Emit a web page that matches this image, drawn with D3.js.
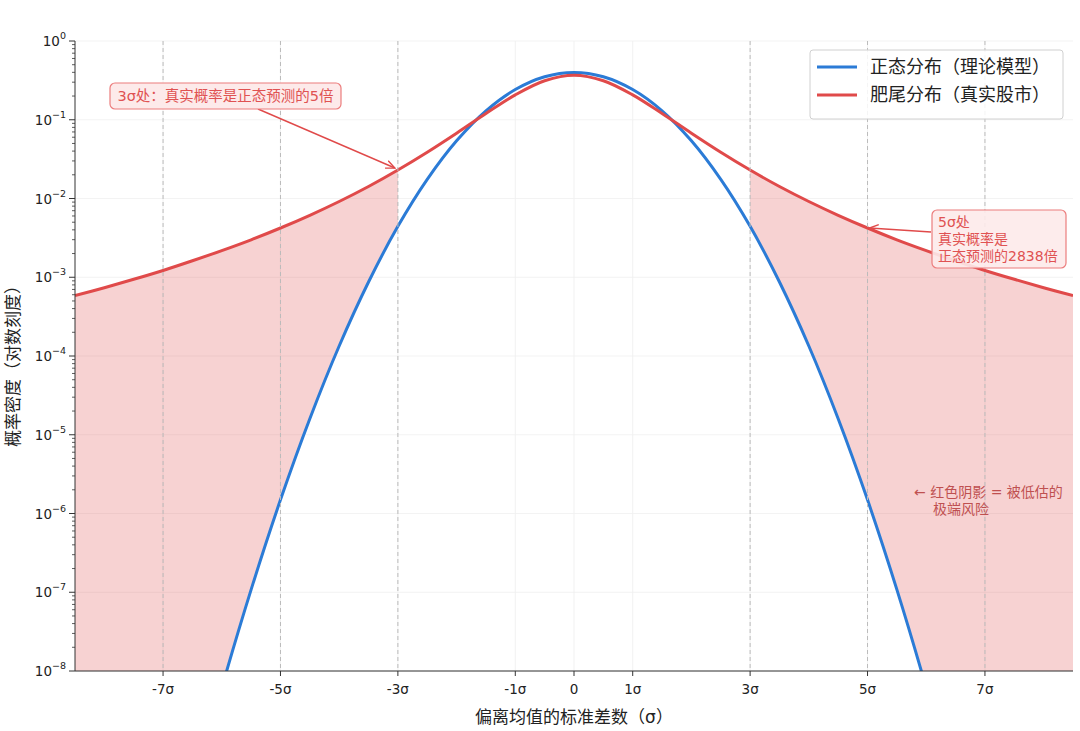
<!DOCTYPE html>
<html>
<head>
<meta charset="utf-8">
<script src="https://cdn.jsdelivr.net/npm/d3@7"></script>
<style>
  body { margin: 0; background: #fff; }
  svg { font-family: "DejaVu Sans", "Noto Sans CJK SC", sans-serif; }
  .tick-label { font-size: 13.5px; fill: #222; }
</style>
</head>
<body>
<div id="chart"></div>
<script>
// x positions (in sigma) where the curves were read
var xs = [-8.5, -8, -7.5, -7, -6.5, -6, -5.5, -5, -4.5, -4, -3.5, -3, -2.5, -2, -1.5, -1, -0.5, 0,
          0.5, 1, 1.5, 2, 2.5, 3, 3.5, 4, 4.5, 5, 5.5, 6, 6.5, 7, 7.5, 8, 8.5];

// fat-tailed density (red)
var fatTail = [5.84e-4, 7.37e-4, 9.42e-4, 1.22e-3, 1.62e-3, 2.18e-3, 2.99e-3, 4.22e-3, 6.12e-3, 9.16e-3,
               1.42e-2, 2.30e-2, 3.87e-2, 6.75e-2, 0.120, 0.207, 0.313, 0.368,
               0.313, 0.207, 0.120, 6.75e-2, 3.87e-2, 2.30e-2, 1.42e-2, 9.16e-3, 6.12e-3, 4.22e-3,
               2.99e-3, 2.18e-3, 1.62e-3, 1.22e-3, 9.42e-4, 7.37e-4, 5.84e-4];

// normal density (blue), only where it is near the visible range
var normalX = [-6.5, -6, -5.5, -5, -4.5, -4, -3.5, -3, -2.5, -2, -1.5, -1, -0.5, 0,
               0.5, 1, 1.5, 2, 2.5, 3, 3.5, 4, 4.5, 5, 5.5, 6, 6.5];
var normalPdf = [2.7e-10, 6.1e-9, 1.08e-7, 1.49e-6, 1.6e-5, 1.34e-4, 8.7e-4, 4.43e-3, 1.75e-2, 5.4e-2,
                 0.130, 0.242, 0.352, 0.399,
                 0.352, 0.242, 0.130, 5.4e-2, 1.75e-2, 4.43e-3, 8.7e-4, 1.34e-4, 1.6e-5, 1.49e-6,
                 1.08e-7, 6.1e-9, 2.7e-10];

var xTicks = [-7, -5, -3, -1, 0, 1, 3, 5, 7];
var xTickLabels = ["-7σ", "-5σ", "-3σ", "-1σ", "0", "1σ", "3σ", "5σ", "7σ"];
var dashedAt = [-7, -5, -3, 3, 5, 7];
var yExps = [0, -1, -2, -3, -4, -5, -6, -7, -8];

var seriesNames = ["正态分布（理论模型）", "肥尾分布（真实股市）"];
var note3 = "3σ处：真实概率是正态预测的5倍";
var note5 = ["5σ处", "真实概率是", "正态预测的2838倍"];
var shadeNote = ["← 红色阴影 = 被低估的", "极端风险"];

var blue = "#2b7bd6", red = "#e04a4a";

var W = 1080, H = 731;
var margin = {top: 41, right: 7, bottom: 60, left: 75},
    width = W - margin.left - margin.right,
    height = H - margin.top - margin.bottom;

var svg = d3.select("#chart").append("svg")
    .attr("width", W).attr("height", H);

var defs = svg.append("defs");
defs.append("clipPath").attr("id", "plotClip")
  .append("rect").attr("x", 0).attr("y", 0).attr("width", width).attr("height", height);

var g = svg.append("g")
    .attr("transform", "translate(" + margin.left + "," + margin.top + ")");

var x = d3.scaleLinear().domain([-8.5, 8.5]).range([0, width]);
var y = d3.scaleLog().domain([1e-8, 1]).range([height, 0]);

// tails clip: |x| >= 3
var tailClip = defs.append("clipPath").attr("id", "tailClip");
tailClip.append("rect").attr("x", x(-8.5)).attr("y", 0).attr("width", x(-3) - x(-8.5)).attr("height", height);
tailClip.append("rect").attr("x", x(3)).attr("y", 0).attr("width", x(8.5) - x(3)).attr("height", height);

// light grid
g.append("g").selectAll("line").data(xTicks).enter().append("line")
    .attr("x1", d => x(d)).attr("x2", d => x(d))
    .attr("y1", 0).attr("y2", height)
    .style("stroke", "#eeeeee").style("stroke-width", 0.8);
g.append("g").selectAll("line").data(yExps).enter().append("line")
    .attr("x1", 0).attr("x2", width)
    .attr("y1", d => y(Math.pow(10, d))).attr("y2", d => y(Math.pow(10, d)))
    .style("stroke", "#f0f0f0").style("stroke-width", 0.8);

// shaded tails between the two curves
var lookup = {};
normalX.forEach((v, i) => lookup[v] = normalPdf[i]);
var tails = xs.map((v, i) => ({x: v, top: fatTail[i], bottom: lookup[v] !== undefined ? lookup[v] : 1e-10}));

var plot = g.append("g").attr("clip-path", "url(#plotClip)");

plot.append("g").attr("clip-path", "url(#tailClip)")
  .append("path")
    .datum(tails)
    .attr("d", d3.area()
        .x(d => x(d.x))
        .y0(d => y(d.bottom))
        .y1(d => y(d.top))
        .curve(d3.curveCatmullRom))
    .style("fill", red).style("fill-opacity", 0.25);

// dashed reference lines
g.append("g").selectAll("line").data(dashedAt).enter().append("line")
    .attr("x1", d => x(d)).attr("x2", d => x(d))
    .attr("y1", 0).attr("y2", height)
    .style("stroke", "#bbbbbb").style("stroke-width", 1)
    .style("stroke-dasharray", "4,3");

var line = d3.line().x(d => x(d[0])).y(d => y(d[1])).curve(d3.curveCatmullRom);

plot.append("path")
    .datum(normalX.map((v, i) => [v, normalPdf[i]]))
    .attr("d", line)
    .style("fill", "none").style("stroke", blue).style("stroke-width", 3);

plot.append("path")
    .datum(xs.map((v, i) => [v, fatTail[i]]))
    .attr("d", line)
    .style("fill", "none").style("stroke", red).style("stroke-width", 3);

// axes (left + bottom spines only)
g.append("line").attr("x1", 0).attr("x2", 0).attr("y1", 0).attr("y2", height)
    .style("stroke", "#333").style("stroke-width", 1);
g.append("line").attr("x1", 0).attr("x2", width).attr("y1", height).attr("y2", height)
    .style("stroke", "#333").style("stroke-width", 1);

// x ticks
var xt = g.append("g").selectAll("g").data(xTicks).enter().append("g")
    .attr("transform", d => "translate(" + x(d) + "," + height + ")");
xt.append("line").attr("y2", 5).style("stroke", "#333");
xt.append("text").attr("class", "tick-label")
    .attr("y", 23).attr("text-anchor", "middle")
    .text((d, i) => xTickLabels[i]);

// y ticks: major + minor
var minor = [];
yExps.slice(1).forEach(e => { for (var k = 2; k <= 9; k++) minor.push(k * Math.pow(10, e)); });
g.append("g").selectAll("line").data(minor).enter().append("line")
    .attr("x1", -3).attr("x2", 0)
    .attr("y1", d => y(d)).attr("y2", d => y(d))
    .style("stroke", "#333").style("stroke-width", 0.8);

var yt = g.append("g").selectAll("g").data(yExps).enter().append("g")
    .attr("transform", d => "translate(0," + y(Math.pow(10, d)) + ")");
yt.append("line").attr("x1", -6).attr("x2", 0).style("stroke", "#333");
var ylab = yt.append("text").attr("class", "tick-label")
    .attr("x", -9).attr("y", 5).attr("text-anchor", "end");
ylab.append("tspan").text("10");
ylab.append("tspan").attr("dy", -7).style("font-size", "9.5px")
    .text(d => d === 0 ? "0" : "−" + (-d));

// axis titles
svg.append("text")
    .attr("x", margin.left + x(0)).attr("y", 723)
    .attr("text-anchor", "middle")
    .style("font-size", "17px").style("fill", "#222")
    .text("偏离均值的标准差数（σ）");
svg.append("text")
    .attr("transform", "translate(19," + 362 + ") rotate(-90)")
    .attr("text-anchor", "middle")
    .style("font-size", "17px").style("fill", "#222")
    .text("概率密度（对数刻度）");

// legend
var lg = svg.append("g").attr("transform", "translate(810,50)");
lg.append("rect").attr("width", 253).attr("height", 69).attr("rx", 3)
    .style("fill", "#fff").style("fill-opacity", 0.85)
    .style("stroke", "#d0d0d0");
seriesNames.forEach(function(name, i) {
    var yy = 17 + i * 28;
    lg.append("line").attr("x1", 7).attr("x2", 47).attr("y1", yy).attr("y2", yy)
        .style("stroke", i === 0 ? blue : red).style("stroke-width", 3);
    lg.append("text").attr("x", 60).attr("y", yy + 6)
        .style("font-size", "18px").style("fill", "#222").text(name);
});

// arrowhead
defs.append("marker").attr("id", "arrow")
    .attr("viewBox", "0 0 10 10").attr("refX", 9).attr("refY", 5)
    .attr("markerWidth", 10).attr("markerHeight", 10)
    .attr("markerUnits", "userSpaceOnUse")
    .attr("orient", "auto")
  .append("path").attr("d", "M0,1 L9,5 L0,9")
    .style("fill", "none").style("stroke", red).style("stroke-width", 1.4);

var noteFill = "#fdeaea", noteStroke = "#ec7d7d", noteText = "#e05252";

// 3 sigma note
var tx3 = margin.left + x(-3), ty3 = margin.top + y(fatTail[xs.indexOf(-3)]);
svg.append("line")
    .attr("x1", 258).attr("y1", 109).attr("x2", tx3 - 3).attr("y2", ty3 - 2)
    .style("stroke", red).style("stroke-width", 1.4)
    .attr("marker-end", "url(#arrow)");
svg.append("rect").attr("x", 110).attr("y", 83).attr("width", 231).attr("height", 26).attr("rx", 5)
    .style("fill", noteFill).style("stroke", noteStroke).style("stroke-width", 1.2);
svg.append("text").attr("x", 225.5).attr("y", 101).attr("text-anchor", "middle")
    .style("font-size", "14.5px").style("fill", noteText).text(note3);

// 5 sigma note
var tx5 = margin.left + x(5), ty5 = margin.top + y(fatTail[xs.indexOf(5)]);
svg.append("line")
    .attr("x1", 931).attr("y1", 232).attr("x2", tx5 + 2).attr("y2", ty5)
    .style("stroke", red).style("stroke-width", 1.4)
    .attr("marker-end", "url(#arrow)");
svg.append("rect").attr("x", 932).attr("y", 210).attr("width", 134).attr("height", 58).attr("rx", 5)
    .style("fill", noteFill).style("fill-opacity", 0.9)
    .style("stroke", noteStroke).style("stroke-width", 1.2);
note5.forEach(function(t, i) {
    svg.append("text").attr("x", 938).attr("y", 227 + i * 17)
        .style("font-size", "14px").style("fill", noteText).text(t);
});

// shade note
svg.append("text").attr("x", 914).attr("y", 497)
    .style("font-size", "14px").style("fill", "#bf5050").text(shadeNote[0]);
svg.append("text").attr("x", 933).attr("y", 514)
    .style("font-size", "14px").style("fill", "#bf5050").text(shadeNote[1]);
</script>
</body>
</html>
